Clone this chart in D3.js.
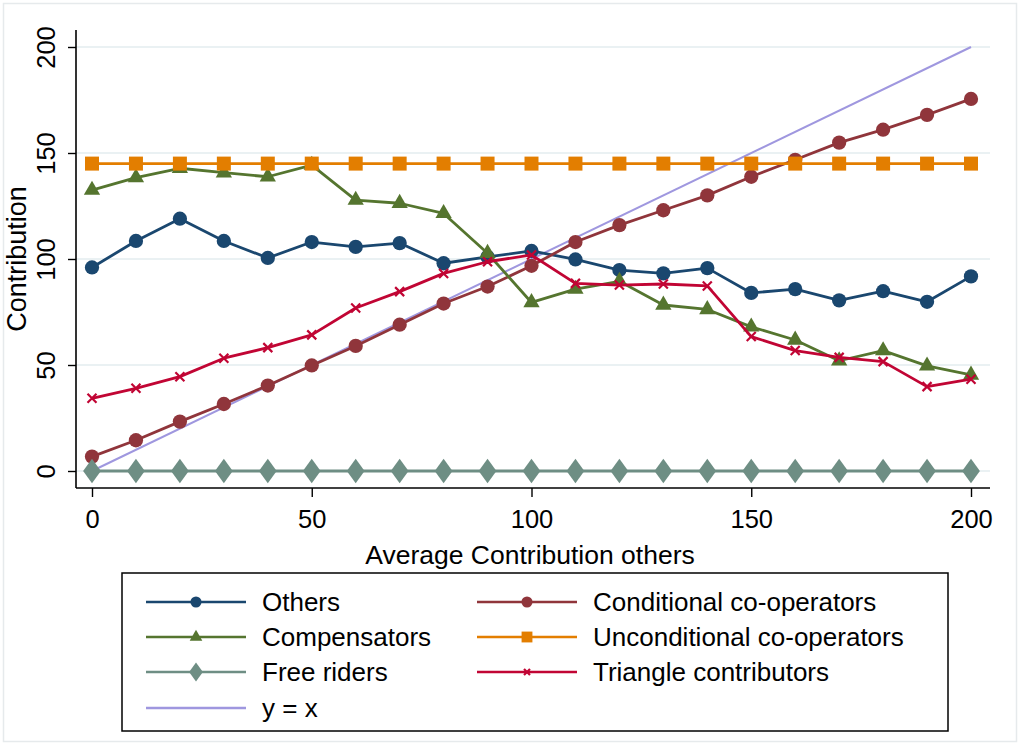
<!DOCTYPE html>
<html>
<head>
<meta charset="utf-8">
<script src="https://cdn.jsdelivr.net/npm/d3@7"></script>
<style>
  body { margin: 0; background: #fff; }
  text { font-family: "Liberation Sans", Arial, sans-serif; fill: #000; }
</style>
</head>
<body>
<svg id="chart" width="1024" height="746"></svg>
<script>
// Data
const xValues = [0, 10, 20, 30, 40, 50, 60, 70, 80, 90, 100, 110, 120, 130, 140, 150, 160, 170, 180, 190, 200];
const others = [96, 108.5, 119, 108.5, 100.5, 108, 105.7, 107.5, 98, 101, 103.8, 99.8, 94.8, 93.2, 95.7, 84, 85.8, 80.5, 84.8, 79.8, 91.8];
const conditional = [6.8, 14.5, 23.3, 31.6, 40.3, 49.8, 59, 69, 79, 87, 96.8, 108, 116, 123, 130, 138.8, 146.8, 154.9, 161, 168, 175.5];
const compensators = [132.5, 138.4, 142.8, 140.7, 138.8, 144.3, 127.8, 126.3, 121.5, 102.7, 79.5, 85.8, 89.5, 78.3, 76.2, 68, 61.8, 52, 56.8, 49.6, 45.3];
const unconditional = [145, 145, 145, 145, 145, 145, 145, 145, 145, 145, 145, 145, 145, 145, 145, 145, 145, 145, 145, 145, 145];
const freeRiders = [0, 0, 0, 0, 0, 0, 0, 0, 0, 0, 0, 0, 0, 0, 0, 0, 0, 0, 0, 0, 0];
const triangle = [34.3, 39, 44.5, 53.2, 58.2, 64.2, 76.9, 84.6, 93.2, 98.7, 101.9, 88.5, 87.7, 88.2, 87.3, 63.4, 56.8, 53.6, 51.6, 39.8, 43.3];
const diagX = [0, 200];
const xTicks = [0, 50, 100, 150, 200];
const yTicks = [0, 50, 100, 150, 200];

const series = [
  { name: "Others", values: others, color: "#1a476f", symbol: d3.symbolCircle, size: 160, width: 2.8 },
  { name: "Conditional co-operators", values: conditional, color: "#90353b", symbol: d3.symbolCircle, size: 160, width: 2.8 },
  { name: "Compensators", values: compensators, color: "#55752f", symbol: d3.symbolTriangle, size: 115, width: 2.8 },
  { name: "Unconditional co-operators", values: unconditional, color: "#e37e00", symbol: d3.symbolSquare, size: 196, width: 2.8 },
  { name: "Free riders", values: freeRiders, color: "#6e8e84", symbol: d3.symbolDiamond, size: 175, width: 2.8 },
  { name: "Triangle contributors", values: triangle, color: "#c10534", symbol: d3.symbolCross, size: 0, width: 2.8 }
];
const diagColor = "#9f97df";
const fontFam = "Liberation Sans, Arial, sans-serif";

const svg = d3.select("#chart");

// outer frame
svg.append("rect").attr("x", 3.5).attr("y", 3.5).attr("width", 1013).attr("height", 738)
  .attr("fill", "none").attr("stroke", "#e6eaec").attr("stroke-width", 1.5);

const x = d3.scaleLinear().domain([0, 200]).range([92, 971]);
const y = d3.scaleLinear().domain([0, 200]).range([471, 47]);
const plotLeft = 76, plotRight = 990, plotBottom = 488, plotTop = 30;

// grid
svg.append("g").selectAll("line").data(yTicks).join("line")
  .attr("x1", plotLeft).attr("x2", plotRight)
  .attr("y1", d => y(d)).attr("y2", d => y(d))
  .attr("stroke", "#eaf1f3").attr("stroke-width", 2);

// axes
const yAxis = svg.append("g").attr("transform", `translate(${plotLeft},0)`)
  .call(d3.axisLeft(y).tickValues(yTicks).tickSize(8).tickSizeOuter(0).tickFormat(d3.format("d")));
yAxis.select(".domain").attr("d", `M0,${plotTop}V${plotBottom}`).attr("stroke", "#000").attr("stroke-width", 1.6);
yAxis.selectAll(".tick line").attr("stroke", "#000").attr("stroke-width", 1.4);
yAxis.selectAll(".tick text")
  .attr("font-size", 25.5).attr("font-family", fontFam)
  .attr("x", 0).attr("dy", 0)
  .attr("text-anchor", "middle")
  .attr("transform", "translate(-21,0) rotate(-90)");

const xAxis = svg.append("g").attr("transform", `translate(0,${plotBottom})`)
  .call(d3.axisBottom(x).tickValues(xTicks).tickSize(9).tickSizeOuter(0).tickFormat(d3.format("d")));
xAxis.select(".domain").attr("d", `M${plotLeft},0H${plotRight}`).attr("stroke", "#000").attr("stroke-width", 1.6);
xAxis.selectAll(".tick text")
  .attr("font-size", 25.5).attr("font-family", fontFam)
  .attr("y", 22).attr("dy", "0.71em");
xAxis.selectAll(".tick line").attr("stroke", "#000").attr("stroke-width", 1.4);

// axis titles
svg.append("text").attr("x", 530).attr("y", 564).attr("text-anchor", "middle")
  .attr("font-size", 26.5).text("Average Contribution others");
svg.append("text").attr("transform", "translate(26,259) rotate(-90)").attr("text-anchor", "middle")
  .attr("font-size", 27).text("Contribution");

// y = x line
svg.append("path")
  .datum(diagX)
  .attr("fill", "none").attr("stroke", diagColor).attr("stroke-width", 2)
  .attr("d", d3.line().x(d => x(d)).y(d => y(d)));

const line = d3.line().x((d, i) => x(xValues[i])).y(d => y(d));

function drawMarker(g, s, cx, cy, r) {
  if (s.name === "Triangle contributors") {
    g.append("path")
      .attr("d", `M${cx - r},${cy - r}L${cx + r},${cy + r}M${cx - r},${cy + r}L${cx + r},${cy - r}`)
      .attr("stroke", s.color).attr("stroke-width", 2.2).attr("fill", "none");
  } else {
    let transform = `translate(${cx},${cy})`;
    if (s.symbol === d3.symbolDiamond) transform += " scale(1.25,1)";
    g.append("path")
      .attr("d", d3.symbol().type(s.symbol).size(s.size)())
      .attr("transform", transform)
      .attr("fill", s.color);
  }
}

series.forEach(s => {
  const g = svg.append("g");
  g.append("path").datum(s.values)
    .attr("fill", "none").attr("stroke", s.color).attr("stroke-width", s.width)
    .attr("stroke-linejoin", "round")
    .attr("d", line);
  s.values.forEach((v, i) => drawMarker(g, s, x(xValues[i]), y(v), 4.5));
});

// legend
svg.append("rect").attr("x", 122).attr("y", 573).attr("width", 826).attr("height", 158)
  .attr("fill", "#fff").attr("stroke", "#000").attr("stroke-width", 1.5);

const legendItems = [
  { s: series[0], col: 0, row: 0 },
  { s: series[1], col: 1, row: 0 },
  { s: series[2], col: 0, row: 1 },
  { s: series[3], col: 1, row: 1 },
  { s: series[4], col: 0, row: 2 },
  { s: series[5], col: 1, row: 2 },
  { s: { name: "y = x", color: diagColor, width: 2.2, noMarker: true }, col: 0, row: 3 }
];
const colX = [146, 477];
const rowY = [602, 637, 672, 708];
const lg = svg.append("g");
legendItems.forEach(it => {
  const x0 = colX[it.col], y0 = rowY[it.row];
  lg.append("line").attr("x1", x0).attr("x2", x0 + 100).attr("y1", y0).attr("y2", y0)
    .attr("stroke", it.s.color).attr("stroke-width", 2.4);
  if (!it.s.noMarker) {
    const ms = Object.assign({}, it.s, { size: it.s.size ? it.s.size * 0.6 : 0 });
    drawMarker(lg, ms, x0 + 50, y0, 3);
  }
  lg.append("text").attr("x", x0 + 116).attr("y", y0).attr("dy", "0.35em")
    .attr("font-size", 26).text(it.s.name);
});
</script>
</body>
</html>
